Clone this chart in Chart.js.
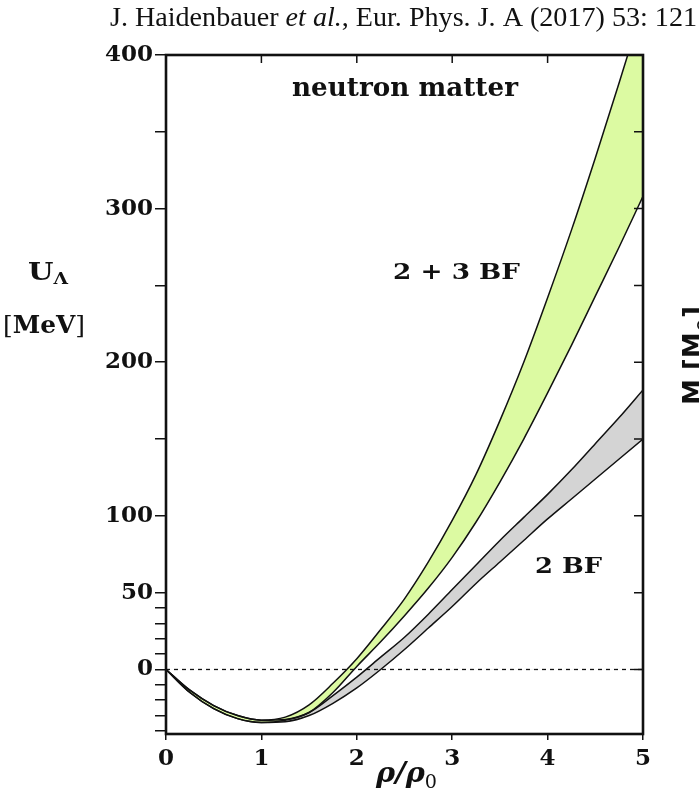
<!DOCTYPE html>
<html><head><meta charset="utf-8">
<script src="https://cdn.jsdelivr.net/npm/chart.js@4.4.1/dist/chart.umd.min.js"></script>
<style>html,body{margin:0;padding:0;background:#fff;} canvas{display:block;}</style>
</head><body>
<canvas id="c" width="699" height="792"></canvas>
<script>
// ---- data ----
const densities = [0,0.25,0.5,0.75,1,1.25,1.5,1.75,2,2.25,2.5,2.75,3,3.25,3.5,3.75,4,4.25,4.5,4.75,5];
const bf23Upper = [0,-13.5,-23.5,-30,-33,-31,-23,-9,7,26,46,70,97,127,162,200,242,286,333,382,432];
const bf23Lower = [0,-15,-25.5,-32,-34.5,-33,-28,-15,2,18,35,53,73,96,122,150,180,211,243,275,308];
const bf2Upper  = [0,-13.5,-23.5,-30,-33,-32.5,-28,-17,-5,8,21,36,52,68,84,99,114,130,147,164,182];
const bf2Lower  = [0,-15,-25.5,-32,-34.5,-34,-30,-22,-12,0,13,27,41,56,70,84,98,111,124,137,150];
const zeroLine  = [0,0];
const zeroLineX = [0,5];
const xTicks = [0,1,2,3,4,5];
const yTicks = [-40,-30,-20,-10,0,10,20,30,40,50,100,150,200,250,300,350,400];
const yTickLabels = [0,50,100,200,300,400];
const rightTicks = [0,50,100,150,200,250,300,350];
const topTicks = [1,2,3,4];

const GREEN = 'rgb(220,250,162)';
const GREY = 'rgb(212,212,212)';
const INK = '#111';

const pts = (xs, ys) => xs.map((x,i)=>({x, y: ys[i]}));
const lineStyle = {borderColor: INK, borderWidth: 1.5, pointRadius: 0, cubicInterpolationMode: 'monotone'};

function drawRuns(ctx, runs, x, y, targetWidth, align) {
  let total = 0;
  runs.forEach(r => { ctx.font = r.f; r.w = ctx.measureText(r.t).width; total += r.w; });
  const sx = targetWidth ? targetWidth / total : 1;
  const w = total * sx;
  let start = x;
  if (align === 'center') start = x - w/2;
  ctx.save();
  ctx.translate(start, 0);
  ctx.scale(sx, 1);
  let cx = 0;
  runs.forEach(r => {
    ctx.font = r.f;
    ctx.textAlign = 'left';
    ctx.textBaseline = 'alphabetic';
    ctx.fillText(r.t, cx, y + (r.dy || 0));
    cx += r.w;
  });
  ctx.restore();
}

const framePlugin = {
  id: 'frame',
  afterDatasetsDraw(chart) {
    const {ctx, chartArea: a, scales} = chart;
    ctx.save();
    ctx.strokeStyle = INK;
    ctx.lineWidth = 1.5;
    ctx.beginPath();
    topTicks.forEach(v => {
      const px = scales.x.getPixelForValue(v);
      ctx.moveTo(px, a.top); ctx.lineTo(px, a.top + 8);
    });
    rightTicks.forEach(v => {
      const py = scales.y.getPixelForValue(v);
      ctx.moveTo(a.right, py); ctx.lineTo(a.right - 9, py);
    });
    ctx.stroke();
    ctx.lineWidth = 2.6;
    ctx.strokeRect(a.left, a.top, a.right - a.left, a.bottom - a.top);
    ctx.restore();
  },
  afterDraw(chart) {
    const ctx = chart.ctx;
    ctx.save();
    ctx.fillStyle = INK;
    // header
    drawRuns(ctx, [
      {t: 'J. Haidenbauer ', f: '27px "Liberation Serif"'},
      {t: 'et al.', f: 'italic 27px "Liberation Serif"'},
      {t: ', Eur. Phys. J. A (2017) 53: 121', f: '27px "Liberation Serif"'}
    ], 110, 26, 587, 'left');
    // in-plot labels
    drawRuns(ctx, [{t: 'neutron matter', f: 'bold 26px "DejaVu Serif"'}], 405, 96, 226, 'center');
    drawRuns(ctx, [{t: '2 + 3 BF', f: 'bold 23px "DejaVu Serif"'}], 393, 279, 127, 'left');
    drawRuns(ctx, [{t: '2 BF', f: 'bold 23px "DejaVu Serif"'}], 535, 573, 67, 'left');
    // y-axis title
    drawRuns(ctx, [
      {t: 'U', f: 'bold 25px "DejaVu Serif"'},
      {t: 'Λ', f: 'bold 16px "DejaVu Serif"', dy: 4}
    ], 28, 280, 40, 'left');
    drawRuns(ctx, [
      {t: '[', f: '25px "DejaVu Serif"'},
      {t: 'MeV', f: 'bold 25px "DejaVu Serif"'},
      {t: ']', f: '25px "DejaVu Serif"'}
    ], 3, 333, 82, 'left');
    // x-axis title
    drawRuns(ctx, [
      {t: 'ρ/ρ', f: 'italic bold 27px "DejaVu Serif"'},
      {t: '0', f: '18px "DejaVu Serif"', dy: 6}
    ], 376, 782, 61, 'left');
    // neighbouring panel's rotated label (cut by the edge)
    ctx.save();
    ctx.translate(702, 405);
    ctx.rotate(-Math.PI/2);
    drawRuns(ctx, [
      {t: 'M [M', f: 'bold 26px "DejaVu Sans"'},
      {t: '⊙', f: 'bold 17px "DejaVu Sans"', dy: 6},
      {t: ']', f: 'bold 26px "DejaVu Sans"'}
    ], 0, 0, null, 'left');
    ctx.restore();
    ctx.restore();
  }
};

const tickFont = {family: '"DejaVu Serif"', weight: 'bold', size: 23};

new Chart(document.getElementById('c'), {
  type: 'line',
  data: {
    datasets: [
      Object.assign({label: '2+3 BF upper', data: pts(densities, bf23Upper), fill: '+1', backgroundColor: GREEN}, lineStyle),
      Object.assign({label: '2+3 BF lower', data: pts(densities, bf23Lower), fill: false}, lineStyle),
      Object.assign({label: '2 BF upper', data: pts(densities, bf2Upper), fill: '+1', backgroundColor: GREY}, lineStyle),
      Object.assign({label: '2 BF lower', data: pts(densities, bf2Lower), fill: false}, lineStyle),
      {label: 'zero', data: pts(zeroLineX, zeroLine), fill: false, borderColor: INK, borderWidth: 1.3, borderDash: [4, 4], pointRadius: 0}
    ]
  },
  options: {
    responsive: false,
    animation: false,
    events: [],
    layout: {padding: {top: 55, right: 56, left: 0, bottom: 0}},
    plugins: {
      legend: {display: false},
      tooltip: {enabled: false},
      filler: {drawTime: 'beforeDatasetsDraw'}
    },
    scales: {
      x: {
        type: 'linear', min: 0, max: 5,
        afterBuildTicks: s => { s.ticks = xTicks.map(v => ({value: v})); },
        afterFit: s => { s.height = 58; },
        border: {display: false},
        grid: {drawOnChartArea: false, drawTicks: true, tickLength: 6, color: INK, lineWidth: 1.5},
        ticks: {font: tickFont, color: INK, padding: 5, maxRotation: 0, autoSkip: false, callback: v => String(v)}
      },
      y: {
        type: 'linear', min: -42, max: 400,
        afterBuildTicks: s => { s.ticks = yTicks.map(v => ({value: v})); },
        afterFit: s => { s.width = 166; },
        border: {display: false},
        grid: {drawOnChartArea: false, drawTicks: true, tickLength: 11, color: INK, lineWidth: 1.5},
        ticks: {font: tickFont, color: INK, padding: 2, autoSkip: false,
                callback: v => yTickLabels.includes(v) ? String(v) : ''}
      }
    }
  },
  plugins: [framePlugin]
});
</script>
</body></html>
